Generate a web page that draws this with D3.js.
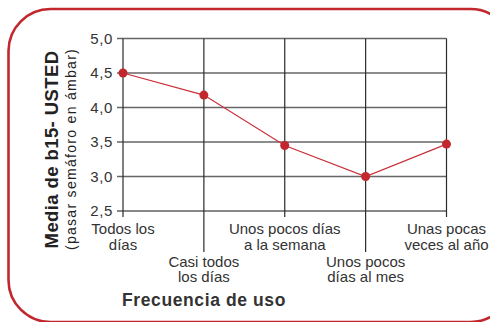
<!DOCTYPE html>
<html>
<head>
<meta charset="utf-8">
<script src="https://d3js.org/d3.v7.min.js"></script>
<style>
  body { margin: 0; background: #fff; }
  svg text { font-family: "Liberation Sans", Arial, Helvetica, sans-serif; fill: #333; }
</style>
</head>
<body>
<svg id="chart"></svg>
<script>
// data
var categories = ["Todos los\ndías", "Casi todos\nlos días", "Unos pocos días\na la semana", "Unos pocos\ndías al mes", "Unas pocas\nveces al año"];
var values = [4.5, 4.18, 3.45, 3.0, 3.47];
var yTicks = [2.5, 3.0, 3.5, 4.0, 4.5, 5.0];
var yTitle = "Media de b15- USTED";
var ySubTitle = "(pasar semáforo en ámbar)";
var xTitle = "Frecuencia de uso";

var screen = {width: 490, height: 322};
var plot = {left: 123, right: 446.5, top: 38.5, bottom: 211};

var svg = d3.select("#chart")
    .attr("width", screen.width)
    .attr("height", screen.height);

// red rounded frame, runs off the right and bottom edge
svg.append("rect")
    .attr("x", 8.5)
    .attr("y", 9)
    .attr("width", 504)
    .attr("height", 313)
    .attr("rx", 42)
    .attr("fill", "none")
    .attr("stroke", "#c1272d")
    .attr("stroke-width", 2.6);

var x = d3.scalePoint()
    .domain(d3.range(categories.length))
    .range([plot.left, plot.right]);

var y = d3.scaleLinear()
    .domain([2.5, 5.0])
    .range([plot.bottom, plot.top]);

var fmt = function(d) { return d3.format(".1f")(d).replace(".", ","); };

// horizontal grid + tick marks
svg.append("g").selectAll("line")
    .data(yTicks)
    .enter()
    .append("line")
    .attr("x1", plot.left - 6)
    .attr("x2", plot.right)
    .attr("y1", function(d) { return y(d); })
    .attr("y2", function(d) { return y(d); })
    .attr("stroke", function(d) { return d == 2.5 ? "#888" : "#666"; })
    .attr("stroke-width", function(d) { return d == 2.5 ? 2 : 1.4; });

// vertical grid lines, every other one drops lower for the staggered labels
svg.append("g").selectAll("line")
    .data(d3.range(categories.length))
    .enter()
    .append("line")
    .attr("x1", function(d) { return x(d); })
    .attr("x2", function(d) { return x(d); })
    .attr("y1", plot.top)
    .attr("y2", function(d) { return d % 2 ? 252 : 217; })
    .attr("stroke", "#2a2a2a")
    .attr("stroke-width", 1.2);

// y tick labels
svg.append("g").selectAll("text")
    .data(yTicks)
    .enter()
    .append("text")
    .attr("x", 113)
    .attr("y", function(d) { return y(d); })
    .attr("dy", "0.35em")
    .attr("text-anchor", "end")
    .style("font-size", "15px")
    .style("letter-spacing", "0.6px")
    .text(fmt);

// category labels
var labels = svg.append("g").selectAll("text")
    .data(categories)
    .enter()
    .append("text")
    .attr("text-anchor", "middle")
    .style("font-size", "15px")
    .attr("transform", function(d, i) {
        return "translate(" + x(i) + "," + (i % 2 ? 266.5 : 234) + ")";
    });

labels.selectAll("tspan")
    .data(function(d) { return d.split("\n"); })
    .enter()
    .append("tspan")
    .attr("x", 0)
    .attr("y", function(d, i) { return i * 15.5; })
    .text(function(d) { return d; });

// the line and its points
var line = d3.line()
    .x(function(d, i) { return x(i); })
    .y(function(d) { return y(d); });

svg.append("path")
    .datum(values)
    .attr("d", line)
    .attr("fill", "none")
    .attr("stroke", "#c8303a")
    .attr("stroke-width", 1.2);

svg.append("g").selectAll("circle")
    .data(values)
    .enter()
    .append("circle")
    .attr("cx", function(d, i) { return x(i); })
    .attr("cy", function(d) { return y(d); })
    .attr("r", 4.5)
    .attr("fill", "#c1272d");

// axis titles
svg.append("text")
    .attr("transform", "translate(57.5,149.5) rotate(-90)")
    .attr("text-anchor", "middle")
    .style("font-size", "18.5px")
    .style("font-weight", "bold")
    .style("letter-spacing", "0.4px")
    .style("fill", "#222")
    .text(yTitle);

svg.append("text")
    .attr("transform", "translate(75.5,149) rotate(-90)")
    .attr("text-anchor", "middle")
    .style("font-size", "14px")
    .style("letter-spacing", "1.3px")
    .style("fill", "#222")
    .text(ySubTitle);

svg.append("text")
    .attr("x", 204)
    .attr("y", 306)
    .attr("text-anchor", "middle")
    .style("font-size", "17.5px")
    .style("font-weight", "bold")
    .style("letter-spacing", "0.6px")
    .style("fill", "#333")
    .text(xTitle);
</script>
</body>
</html>
